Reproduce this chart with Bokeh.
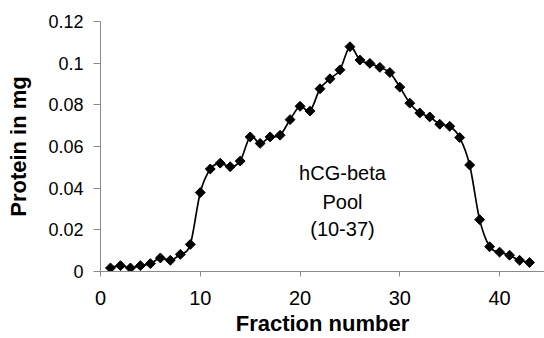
import math
from bokeh.plotting import figure
from bokeh.models import Range1d, FixedTicker, Label, ColumnDataSource
from bokeh.embed import file_html
from bokeh.resources import INLINE

# ---- data ----
fractions = list(range(1, 44))
protein_mg = [0.0017, 0.0028, 0.0017, 0.0028, 0.0038, 0.0065, 0.0054, 0.0082, 0.0130,
              0.0379, 0.0492, 0.0520, 0.0503, 0.0530, 0.0646, 0.0615, 0.0646, 0.0654,
              0.0729, 0.0793, 0.0770, 0.0877, 0.0925, 0.0968, 0.1079, 0.1015, 0.0999,
              0.0980, 0.0955, 0.0885, 0.0808, 0.0761, 0.0742, 0.0707, 0.0697, 0.0643,
              0.0511, 0.0249, 0.0119, 0.0093, 0.0078, 0.0054, 0.0043]
x_ticks = [0, 10, 20, 30, 40]
y_ticks = [0, 0.02, 0.04, 0.06, 0.08, 0.1, 0.12]
y_tick_labels = ["0", "0.02", "0.04", "0.06", "0.08", "0.1", "0.12"]
annotation_lines = ["hCG-beta", "Pool", "(10-37)"]
x_title = "Fraction number"
y_title = "Protein in mg"

FONT = "Liberation Sans"
AXIS_GRAY = "#8a8a8a"

p = figure(width=544, height=338, output_backend="svg", toolbar_location=None,
           x_range=Range1d(0, 44.5), y_range=Range1d(0, 0.12),
           min_border_left=100, min_border_right=0, min_border_top=21, min_border_bottom=0)
p.outline_line_color = None
p.xgrid.grid_line_color = None
p.ygrid.grid_line_color = None
p.background_fill_color = "white"
p.border_fill_color = "white"

# x axis
xa = p.xaxis[0]
xa.ticker = FixedTicker(ticks=x_ticks)
xa.minor_tick_line_color = None
xa.major_tick_in = 0
xa.major_tick_out = 5
xa.axis_line_color = AXIS_GRAY
xa.major_tick_line_color = AXIS_GRAY
xa.major_label_text_font = FONT
xa.major_label_text_font_size = "20px"
xa.major_label_text_color = "black"
xa.major_label_standoff = 14
xa.axis_label = x_title
xa.axis_label_text_font = FONT
xa.axis_label_text_font_size = "22px"
xa.axis_label_text_font_style = "bold"
xa.axis_label_text_color = "black"
xa.axis_label_standoff = 3

# y axis
ya = p.yaxis[0]
ya.ticker = FixedTicker(ticks=y_ticks)
ya.major_label_overrides = {t: s for t, s in zip(y_ticks, y_tick_labels)}
ya.minor_tick_line_color = None
ya.major_tick_in = 0
ya.major_tick_out = 7
ya.axis_line_color = AXIS_GRAY
ya.major_tick_line_color = AXIS_GRAY
ya.major_label_text_font = FONT
ya.major_label_text_font_size = "18px"
ya.major_label_text_color = "black"
ya.major_label_standoff = 10
ya.axis_label = y_title
ya.axis_label_text_font = FONT
ya.axis_label_text_font_size = "22px"
ya.axis_label_text_font_style = "bold"
ya.axis_label_text_color = "black"
ya.axis_label_standoff = 14

# smoothed line through the points (cubic Bezier segments, Catmull-Rom style)
n = len(fractions)
x0, y0, x1, y1, cx0, cy0, cx1, cy1 = [], [], [], [], [], [], [], []
for i in range(n - 1):
    im = max(i - 1, 0)
    ip = min(i + 2, n - 1)
    x0.append(fractions[i]); y0.append(protein_mg[i])
    x1.append(fractions[i + 1]); y1.append(protein_mg[i + 1])
    cx0.append(fractions[i] + (fractions[i + 1] - fractions[im]) / 6.0)
    cy0.append(protein_mg[i] + (protein_mg[i + 1] - protein_mg[im]) / 6.0)
    cx1.append(fractions[i + 1] - (fractions[ip] - fractions[i]) / 6.0)
    cy1.append(protein_mg[i + 1] - (protein_mg[ip] - protein_mg[i]) / 6.0)
seg = ColumnDataSource(dict(x0=x0, y0=y0, x1=x1, y1=y1, cx0=cx0, cy0=cy0, cx1=cx1, cy1=cy1))
p.bezier(x0="x0", y0="y0", x1="x1", y1="y1", cx0="cx0", cy0="cy0", cx1="cx1", cy1="cy1",
         source=seg, line_color="black", line_width=1.7)

pts = ColumnDataSource(dict(x=fractions, y=protein_mg))
p.scatter(x="x", y="y", source=pts, marker="square", angle=math.pi / 4, size=7,
          fill_color="black", line_color="black")

# annotation text block
label_x = 24.25
label_ys = [0.0473, 0.0335, 0.0202]
for txt, ly in zip(annotation_lines, label_ys):
    p.add_layout(Label(x=label_x, y=ly, text=txt, text_align="center",
                       text_baseline="alphabetic", text_font=FONT,
                       text_font_size="20px", text_color="black"))

open("out.html", "w").write(file_html(p, INLINE))
